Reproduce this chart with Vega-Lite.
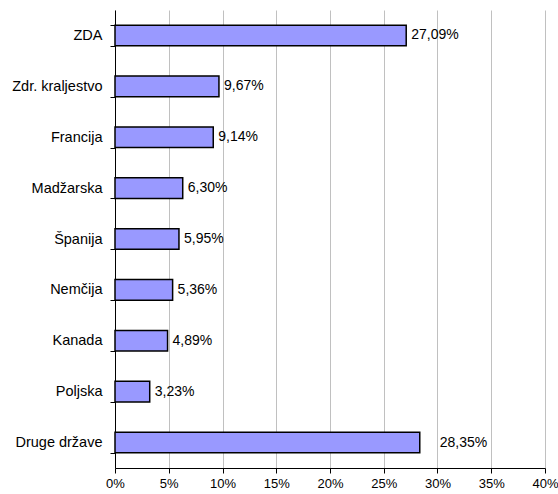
{
  "$schema": "https://vega.github.io/schema/vega-lite/v6.json",
  "width": 430,
  "height": 458,
  "autosize": {"type": "none"},
  "padding": {"left": 115, "top": 10, "right": 13, "bottom": 26},
  "background": "white",
  "data": {
    "values": [
      {"drzava": "ZDA", "delez": 0.2709},
      {"drzava": "Zdr. kraljestvo", "delez": 0.0967},
      {"drzava": "Francija", "delez": 0.0914},
      {"drzava": "Madžarska", "delez": 0.0630},
      {"drzava": "Španija", "delez": 0.0595},
      {"drzava": "Nemčija", "delez": 0.0536},
      {"drzava": "Kanada", "delez": 0.0489},
      {"drzava": "Poljska", "delez": 0.0323},
      {"drzava": "Druge države", "delez": 0.2835}
    ]
  },
  "encoding": {
    "y": {
      "field": "drzava",
      "type": "nominal",
      "sort": null,
      "scale": {"paddingInner": 0.595, "paddingOuter": 0.2975},
      "axis": {
        "title": null,
        "tickBand": "extent",
        "tickSize": 5,
        "tickColor": "black",
        "domainColor": "black",
        "labelPadding": 8,
        "labelFont": "Liberation Sans",
        "labelFontSize": 14.5,
        "labelColor": "black",
        "grid": false
      }
    },
    "x": {
      "field": "delez",
      "type": "quantitative",
      "scale": {"domain": [0, 0.4], "nice": false},
      "axis": {
        "title": null,
        "format": ".0%",
        "values": [0, 0.05, 0.1, 0.15, 0.2, 0.25, 0.3, 0.35, 0.4],
        "tickSize": 5,
        "tickColor": "black",
        "domainColor": "black",
        "labelPadding": 4,
        "labelFont": "Liberation Sans",
        "labelFontSize": 13,
        "labelColor": "black",
        "labelFlush": false,
        "grid": true,
        "gridColor": "#c0c0c0",
        "gridWidth": 1
      }
    }
  },
  "layer": [
    {
      "mark": {"type": "bar", "color": "#9999ff", "stroke": "black", "strokeWidth": 1.5}
    },
    {
      "transform": [{"filter": "datum.drzava !== 'Druge države'"}],
      "mark": {"type": "text", "align": "left", "baseline": "middle", "dx": 5, "font": "Liberation Sans", "fontSize": 14, "color": "black"},
      "encoding": {"text": {"field": "delez", "type": "quantitative", "format": ".2%"}}
    },
    {
      "transform": [{"filter": "datum.drzava === 'Druge države'"}],
      "mark": {"type": "text", "align": "left", "baseline": "middle", "dx": 20, "font": "Liberation Sans", "fontSize": 14, "color": "black"},
      "encoding": {"text": {"field": "delez", "type": "quantitative", "format": ".2%"}}
    }
  ],
  "config": {
    "view": {"stroke": null},
    "locale": {"number": {"decimal": ",", "thousands": ".", "grouping": [3], "currency": ["", " €"]}}
  }
}
